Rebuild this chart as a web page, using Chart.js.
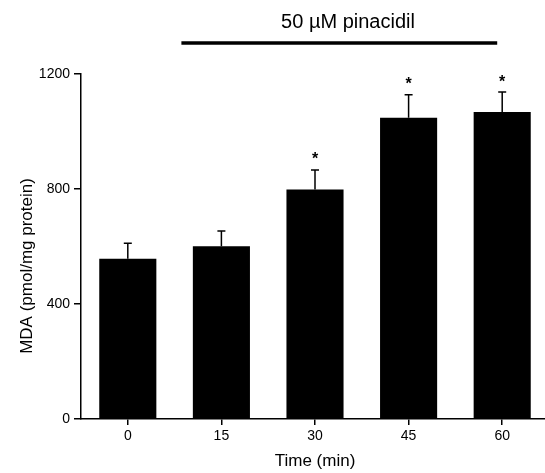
<!DOCTYPE html>
<html>
<head>
<script src="https://cdn.jsdelivr.net/npm/chart.js"></script>
<style>
  html, body { margin: 0; background: #fff; overflow: hidden; width: 545px; height: 473px; }
</style>
</head>
<body>
<canvas id="chart" width="549" height="473"></canvas>
<script>
  // values
  const times = ['0', '15', '30', '45', '60'];
  const mda = [557, 601, 798, 1048, 1068];
  const sem = [54, 53, 68, 80, 69];
  const significant = [false, false, true, true, true];
  const yTicks = [0, 400, 800, 1200];

  // error bars, asterisks, y title and the pinacidil bar on top
  const extras = {
    id: 'extras',
    afterDatasetsDraw(chart) {
      const ctx = chart.ctx;
      const x = chart.scales.x;
      const y = chart.scales.y;
      ctx.save();
      ctx.strokeStyle = '#000';
      ctx.fillStyle = '#000';
      ctx.lineWidth = 1.5;
      mda.forEach((v, i) => {
        const cx = x.getPixelForValue(i);
        const top = y.getPixelForValue(v + sem[i]);
        ctx.beginPath();
        ctx.moveTo(cx, y.getPixelForValue(v));
        ctx.lineTo(cx, top);
        ctx.moveTo(cx - 4, top);
        ctx.lineTo(cx + 4, top);
        ctx.stroke();
        if (significant[i]) {
          ctx.font = 'bold 16px "Liberation Sans"';
          ctx.textAlign = 'center';
          ctx.textBaseline = 'middle';
          ctx.fillText('*', cx, top - 10);
        }
      });
      // treatment bar
      const x1 = x.getPixelForValue(1) - 40;
      const x2 = x.getPixelForValue(4) - 5;
      ctx.lineWidth = 3.5;
      ctx.beginPath();
      ctx.moveTo(x1, 43);
      ctx.lineTo(x2, 43);
      ctx.stroke();
      ctx.font = '20px "Liberation Sans"';
      ctx.textAlign = 'center';
      ctx.textBaseline = 'middle';
      ctx.fillText('50 \u00b5M pinacidil', 348, 22);
      // y axis title
      ctx.translate(27, 266);
      ctx.rotate(-Math.PI / 2);
      ctx.font = '17px "Liberation Sans"';
      ctx.fillText('MDA (pmol/mg protein)', 0, 0);
      ctx.restore();
    }
  };

  const ctx = document.getElementById('chart').getContext('2d');
  new Chart(ctx, {
    type: 'bar',
    data: {
      labels: times,
      datasets: [{
        data: mda,
        backgroundColor: '#000',
        borderWidth: 0,
        barPercentage: 0.61,
        categoryPercentage: 1
      }]
    },
    options: {
      responsive: false,
      animation: false,
      layout: { padding: { top: 74, right: 0, left: 0, bottom: 0 } },
      plugins: { legend: { display: false }, tooltip: { enabled: false } },
      scales: {
        x: {
          afterFit: s => { s.height = 54; },
          grid: { drawOnChartArea: false, offset: false, tickLength: 6, color: '#000', lineWidth: 1.5 },
          border: { color: '#000', width: 1.5 },
          ticks: { color: '#000', font: { family: 'Liberation Sans', size: 14 }, padding: 3 },
          title: {
            display: true, text: 'Time (min)', color: '#000',
            font: { family: 'Liberation Sans', size: 17 }, padding: { top: 0, bottom: 1 }
          }
        },
        y: {
          min: 0,
          max: 1200,
          afterFit: s => { s.width = 81; },
          afterBuildTicks: s => { s.ticks = yTicks.map(v => ({ value: v })); },
          grid: { drawOnChartArea: false, tickLength: 7, color: '#000', lineWidth: 1.5 },
          border: { color: '#000', width: 1.5 },
          ticks: {
            color: '#000', font: { family: 'Liberation Sans', size: 14 }, padding: 4,
            callback: v => String(v)
          }
        }
      }
    },
    plugins: [extras]
  });
</script>
</body>
</html>
